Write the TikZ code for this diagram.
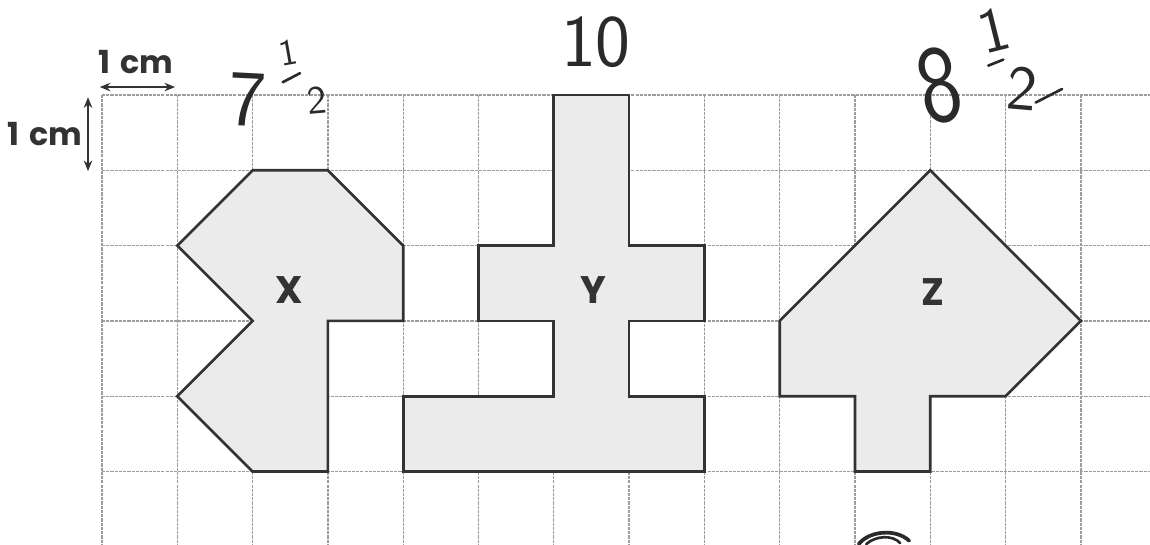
\documentclass[tikz,border=0pt]{standalone}
\usepackage{fontspec}
\newfontfamily\labfont{Poppins}
\usetikzlibrary{arrows.meta}
\definecolor{ink}{HTML}{333333}
\definecolor{pencil}{HTML}{2A2A2A}
\definecolor{shade}{HTML}{EBEBEB}
\definecolor{gridc}{HTML}{9C9C9C}
\begin{document}
\begin{tikzpicture}[x=1cm,y=-1cm,
  gridline/.style={gridc, line width=0.5pt, dash pattern=on 1.2pt off 0.4pt},
  figshape/.style={draw=ink, fill=shade, line width=1pt, line join=miter},
  lab/.style={font=\labfont\bfseries\fontsize{14.5}{16}\selectfont, text=ink, inner sep=0pt},
  cmlab/.style={font=\labfont\bfseries\fontsize{12}{14}\selectfont, text=ink, inner sep=0pt},
  dim/.style={draw=ink, line width=0.8pt, {Stealth[length=4pt,width=3.2pt]}-{Stealth[length=4pt,width=3.2pt]}},
  hand/.style={text=pencil, inner sep=0pt, font=\sffamily},
  pen/.style={draw=pencil, line width=1.3pt, line cap=round}]
\useasboundingbox (-1.355,-1.262) rectangle (13.918,5.963);
% grid
\foreach \i in {0,...,13} \draw[gridline] (\i,0) -- (\i,5.963);
\foreach \j in {0,...,5} \draw[gridline] (0,\j) -- (13.918,\j);
% shapes
\draw[figshape] (2,1) -- (3,1) -- (4,2) -- (4,3) -- (3,3) -- (3,5) -- (2,5) -- (1,4) -- (2,3) -- (1,2) -- cycle;
\draw[figshape] (6,0) -- (7,0) -- (7,2) -- (8,2) -- (8,3) -- (7,3) -- (7,4) -- (8,4) -- (8,5) -- (4,5) -- (4,4) -- (6,4) -- (6,3) -- (5,3) -- (5,2) -- (6,2) -- cycle;
\draw[figshape] (11,1) -- (13,3) -- (12,4) -- (11,4) -- (11,5) -- (10,5) -- (10,4) -- (9,4) -- (9,3) -- cycle;
% shape labels
\node[lab] (lx) at (2.48,2.59) {X};
\node[lab] (ly) at (6.52,2.59) {Y};
\node[lab] (lz) at (11.03,2.62) {Z};
% scale indicators
\coordinate (hl) at (-0.03,-0.106);
\coordinate (hr) at (0.97,-0.106);
\draw[dim] (hl) -- (hr);
\node[cmlab] (cmtop) at (0.45,-0.44) {1\hspace{0.3em}cm};
\coordinate (vt) at (-0.186,0.03);
\coordinate (vb) at (-0.186,1.01);
\draw[dim] (vt) -- (vb);
\node[cmlab] (cmleft) at (-0.76,0.52) {1\hspace{0.3em}cm};
% handwritten answers
\node[hand, font=\sffamily\fontsize{30}{32}\selectfont, rotate=-3] (h7) at (1.93,0.06) {7};
\node[hand, font=\sffamily\fontsize{14}{16}\selectfont, rotate=10] (h7n) at (2.47,-0.57) {1};
\draw[pen, line width=1pt] (2.40,-0.17) -- (2.63,-0.29);
\node[hand, font=\sffamily\fontsize{15}{17}\selectfont, rotate=5] (h7d) at (2.85,0.07) {2};
\node[hand, font=\sffamily\fontsize{28}{30}\selectfont] (h10) at (6.56,-0.70) {10};
\node[hand, font=\sffamily\fontsize{42}{44}\selectfont, rotate=12, xscale=0.8] (h8) at (11.12,-0.13) {8};
\node[hand, font=\sffamily\fontsize{24}{26}\selectfont, rotate=14] (h8n) at (11.84,-0.86) {1};
\draw[pen, line width=1pt] (11.77,-0.39) -- (11.97,-0.47);
\node[hand, font=\sffamily\fontsize{24}{26}\selectfont, rotate=-5] (h8d) at (12.22,-0.09) {2};
\draw[pen, line width=1pt] (12.40,0.10) -- (12.75,-0.08);
% pencil scribble at bottom
\draw[pen, line width=1.4pt] (10.05,5.963) .. controls (10.2,5.78) and (10.55,5.76) .. (10.72,5.92);
\draw[pen, line width=1pt] (10.15,5.963) .. controls (10.28,5.85) and (10.5,5.84) .. (10.6,5.95);
\end{tikzpicture}
\end{document}
